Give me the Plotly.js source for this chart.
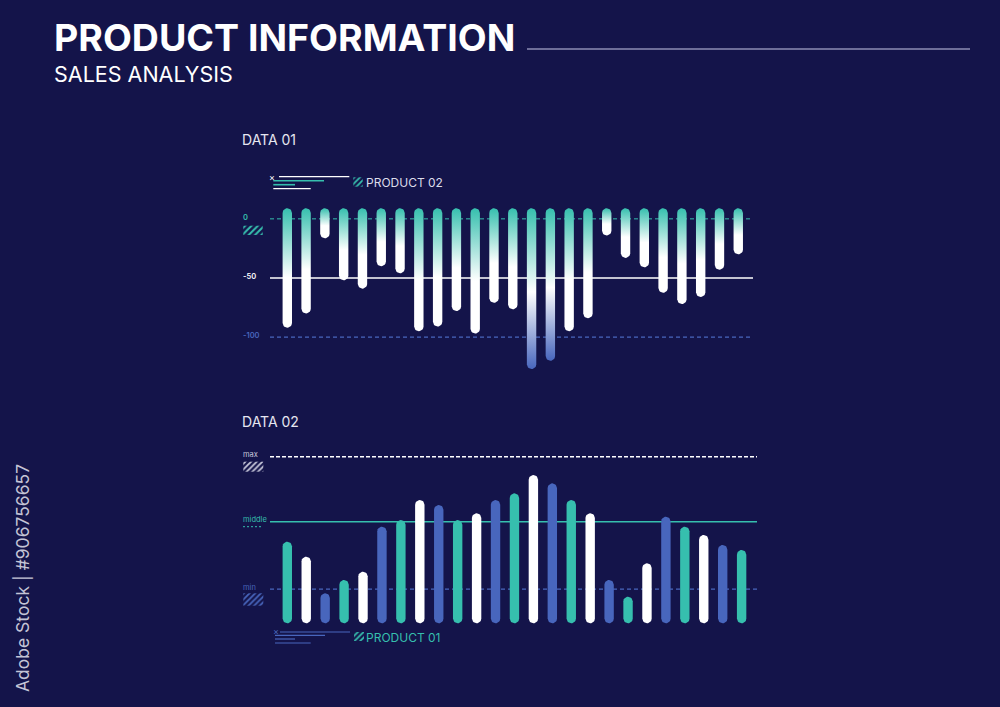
<!DOCTYPE html>
<html><head><meta charset="utf-8">
<script src="https://cdn.plot.ly/plotly-3.0.1.min.js"></script>
<style>html,body{margin:0;padding:0;background:#14144a;}#chart{width:1000px;height:707px;}</style>
</head><body><div id="chart"></div>
<script>
// ---------------- DATA ----------------
// DATA 01 – PRODUCT 02 : end value of each bar (bars hang from a common start above 0)
const data01Categories = ['1','2','3','4','5','6','7','8','9','10','11','12','13','14','15','16','17','18','19','20','21','22','23','24','25'];
const product02Values = [-92, -80, -16.5, -52, -59, -40, -46, -95, -91, -78, -97, -71, -76.5, -127, -120, -95, -84, -14, -33, -41, -62.5, -72, -66, -43, -30];
const data01BarStart = 9;
const data01Levels = [0, -50, -100];
const data01LevelLabels = ['0', '-50', '-100'];

// DATA 02 – PRODUCT 01 : height of each bar
const data02Categories = ['1','2','3','4','5','6','7','8','9','10','11','12','13','14','15','16','17','18','19','20','21','22','23','24','25'];
const product01Values = [49, 40, 18, 26, 31, 58, 62, 74, 71, 62, 66, 74, 78, 89, 84, 74, 66, 26, 16, 36, 64, 58, 53, 47, 44];
const product01Groups = ['A','B','C','A','B','C','A','B','C','A','B','C','A','B','C','A','B','C','A','B','C','A','B','C','A'];
const data02Levels = [100, 61, 20.5];
const data02LevelLabels = ['max', 'middle', 'min'];

// ---------------- STYLE / LAYOUT ----------------
const BG = '#14144a', TEAL = '#36bfae', BLUE = '#4866bd', WHITE = '#ffffff', GREY = '#c9c9dc';
const groupColor = {A: TEAL, B: WHITE, C: BLUE};
const W = 1000, H = 707;
const FONT = 'Inter, "Open Sans", sans-serif';
const px = x => x / W, py = y => 1 - y / H;

// axis geometry (pixels)
const geo1 = {x0: 287.3, dx: 18.79, y0: 218.85, dy: 1.183, xr: [-1, 25], yr: [-135, 15]};
const geo2 = {x0: 287.3, dx: 18.93, y0: 623.3, dy: 1.666, xr: [-1, 25], yr: [-12, 110]};
const BAR_R = 4.7; // half bar width in px

function xDomain(g) { return [px(g.x0 + g.xr[0] * g.dx), px(g.x0 + g.xr[1] * g.dx)]; }
function yDomain(g) { return [py(g.y0 - g.yr[0] * g.dy), py(g.y0 - g.yr[1] * g.dy)]; }

function capsule(xc, yTop, yBot, hw, ry) {
  let ct = yTop - ry, cb = yBot + ry;
  if (ct < cb) { const m = (yTop + yBot) / 2; ct = m; cb = m; }
  const xs = [], ys = [], N = 14;
  for (let k = 0; k <= N; k++) { const t = Math.PI * k / N; xs.push(xc + hw * Math.cos(t)); ys.push(ct + ry * Math.sin(t)); }
  for (let k = 0; k <= N; k++) { const t = Math.PI + Math.PI * k / N; xs.push(xc + hw * Math.cos(t)); ys.push(cb + ry * Math.sin(t)); }
  xs.push(xs[0]); ys.push(ys[0]);
  return {xs, ys};
}

const traces = [];
// DATA 01 bars with per-bar vertical gradient
product02Values.forEach((v, i) => {
  const c = capsule(i, data01BarStart, v, BAR_R / geo1.dx, BAR_R / geo1.dy);
  const deep = v < data01Levels[2];
  traces.push({
    type: 'scatter', mode: 'lines', x: c.xs, y: c.ys, xaxis: 'x', yaxis: 'y',
    fill: 'toself', line: {width: 0, color: 'rgba(0,0,0,0)'}, hoverinfo: 'skip', showlegend: false,
    name: data01Categories[i],
    fillgradient: {type: 'vertical', colorscale: deep
      ? [[0, BLUE], [0.48, WHITE], [1, TEAL]]
      : [[0, WHITE], [0.42, WHITE], [1, TEAL]]}
  });
});
// DATA 02 bars
product01Values.forEach((v, i) => {
  const c = capsule(i, v, 0, BAR_R / geo2.dx, BAR_R / geo2.dy);
  traces.push({
    type: 'scatter', mode: 'lines', x: c.xs, y: c.ys, xaxis: 'x2', yaxis: 'y2',
    fill: 'toself', fillcolor: groupColor[product01Groups[i]], line: {width: 0, color: 'rgba(0,0,0,0)'},
    hoverinfo: 'skip', showlegend: false, name: data02Categories[i]
  });
});

// hatched icons on a pixel overlay axis
function hatch(x0, y0, x1, y1, color, size) {
  traces.push({type: 'scatter', mode: 'lines', xaxis: 'x3', yaxis: 'y3',
    x: [x0, x1, x1, x0, x0], y: [y0, y0, y1, y1, y0], fill: 'toself', line: {width: 0, color: 'rgba(0,0,0,0)'},
    fillcolor: 'rgba(0,0,0,0)',
    fillpattern: {shape: '/', fgcolor: color, bgcolor: 'rgba(0,0,0,0)', size: size, solidity: 0.45},
    hoverinfo: 'skip', showlegend: false});
}
hatch(243.3, 225.7, 262.7, 235, TEAL, 4.5);
hatch(353.3, 177.3, 362.7, 186.7, TEAL, 4);
hatch(243.3, 461.7, 263.3, 471.7, GREY, 4);
hatch(243.3, 593.3, 263.3, 605.7, BLUE, 4);
hatch(354, 632, 364, 641, TEAL, 4);

const shapes = [];
const annotations = [];
function hline(x0, x1, y, color, width, dash, layer) {
  shapes.push({type: 'line', xref: 'paper', yref: 'paper', x0: px(x0), x1: px(x1), y0: py(y), y1: py(y),
    line: {color, width, dash: dash || 'solid'}, layer: layer || 'above'});
}
function text(x, y, t, size, color, opts) {
  annotations.push(Object.assign({xref: 'paper', yref: 'paper', x: px(x), y: py(y), text: t, showarrow: false,
    xanchor: 'left', yanchor: 'middle', font: {family: FONT, size, color}}, opts || {}));
}

// reference lines DATA 01 (data coords)
const lvl1Style = [[TEAL, 1, '4px,3px'], [WHITE, 1.5, 'solid'], [BLUE, 1.2, '4px,3px']];
data01Levels.forEach((lv, k) => {
  shapes.push({type: 'line', xref: 'paper', yref: 'y', x0: px(270), x1: px(753), y0: lv, y1: lv,
    line: {color: lvl1Style[k][0], width: lvl1Style[k][1], dash: lvl1Style[k][2]}, layer: 'below'});
});
const lvl2Style = [[WHITE, 1.5, '4px,2px'], [TEAL, 1.5, 'solid'], [BLUE, 1.2, '4px,3px']];
data02Levels.forEach((lv, k) => {
  shapes.push({type: 'line', xref: 'paper', yref: 'y2', x0: px(270), x1: px(757), y0: lv, y1: lv,
    line: {color: lvl2Style[k][0], width: lvl2Style[k][1], dash: lvl2Style[k][2]}, layer: 'below'});
});

// level labels
const lvl1Color = [TEAL, WHITE, BLUE];
data01Levels.forEach((lv, k) => {
  annotations.push({xref: 'paper', yref: 'y', x: px(241), y: lv, text: data01LevelLabels[k], showarrow: false,
    xanchor: 'left', yanchor: 'middle', yshift: 1.5, font: {family: FONT, size: 7.5, color: lvl1Color[k], weight: 600}});
});
const lvl2Color = [GREY, TEAL, BLUE];
data02Levels.forEach((lv, k) => {
  annotations.push({xref: 'paper', yref: 'y2', x: px(241), y: lv, text: data02LevelLabels[k], showarrow: false,
    xanchor: 'left', yanchor: 'middle', yshift: 2, font: {family: FONT, size: 7.5, color: lvl2Color[k]}});
});
hline(243, 263, 526.7, TEAL, 1, '2px,2px');

// title block
text(52, 38, '<b>PRODUCT INFORMATION</b>', 37.5, WHITE);
hline(527, 970, 49, '#8c8cb4', 1.3);
text(52, 74, 'SALES ANALYSIS', 21.5, WHITE);
text(240, 139.5, 'DATA 01', 14, '#e6e6f0');
text(240, 421, 'DATA 02', 14, '#e6e6f0');

// legend decorations
text(272, 177, '×', 9, WHITE, {xanchor: 'center'});
hline(279, 349.3, 176.7, WHITE, 1.3);
hline(273.3, 324, 180.7, TEAL, 1.6);
hline(273.3, 295, 184.7, TEAL, 1.6);
hline(273.3, 310.7, 188.7, WHITE, 1.3);
text(364, 183, 'PRODUCT 02', 12, '#dcdcea');

text(276, 631.5, '×', 9, BLUE, {xanchor: 'center'});
hline(280, 350, 632, BLUE, 1.2);
hline(275, 325, 635.3, BLUE, 1.2);
hline(275, 295, 639, BLUE, 1.2);
hline(275, 310.7, 643, BLUE, 1.2);
text(364, 637, 'PRODUCT 01', 12, TEAL);

// side credit
annotations.push({xref: 'paper', yref: 'paper', x: px(22), y: py(578), text: 'Adobe Stock | #906756657', showarrow: false,
  textangle: -90, xanchor: 'center', yanchor: 'middle', font: {family: FONT, size: 17.5, color: '#c4c4d6'}});

const hidden = {visible: false, fixedrange: true};
const layout = {
  width: W, height: H, margin: {l: 0, r: 0, t: 0, b: 0}, paper_bgcolor: BG, plot_bgcolor: 'rgba(0,0,0,0)',
  showlegend: false, hovermode: false,
  xaxis: Object.assign({}, hidden, {domain: xDomain(geo1), range: geo1.xr}),
  yaxis: Object.assign({}, hidden, {domain: yDomain(geo1), range: geo1.yr}),
  xaxis2: Object.assign({}, hidden, {domain: xDomain(geo2), range: geo2.xr, anchor: 'y2'}),
  yaxis2: Object.assign({}, hidden, {domain: yDomain(geo2), range: geo2.yr, anchor: 'x2'}),
  xaxis3: Object.assign({}, hidden, {domain: [0, 1], range: [0, W], anchor: 'y3'}),
  yaxis3: Object.assign({}, hidden, {domain: [0, 1], range: [H, 0], anchor: 'x3'}),
  shapes, annotations
};
Plotly.newPlot('chart', traces, layout, {displayModeBar: false, staticPlot: true});
</script></body></html>
